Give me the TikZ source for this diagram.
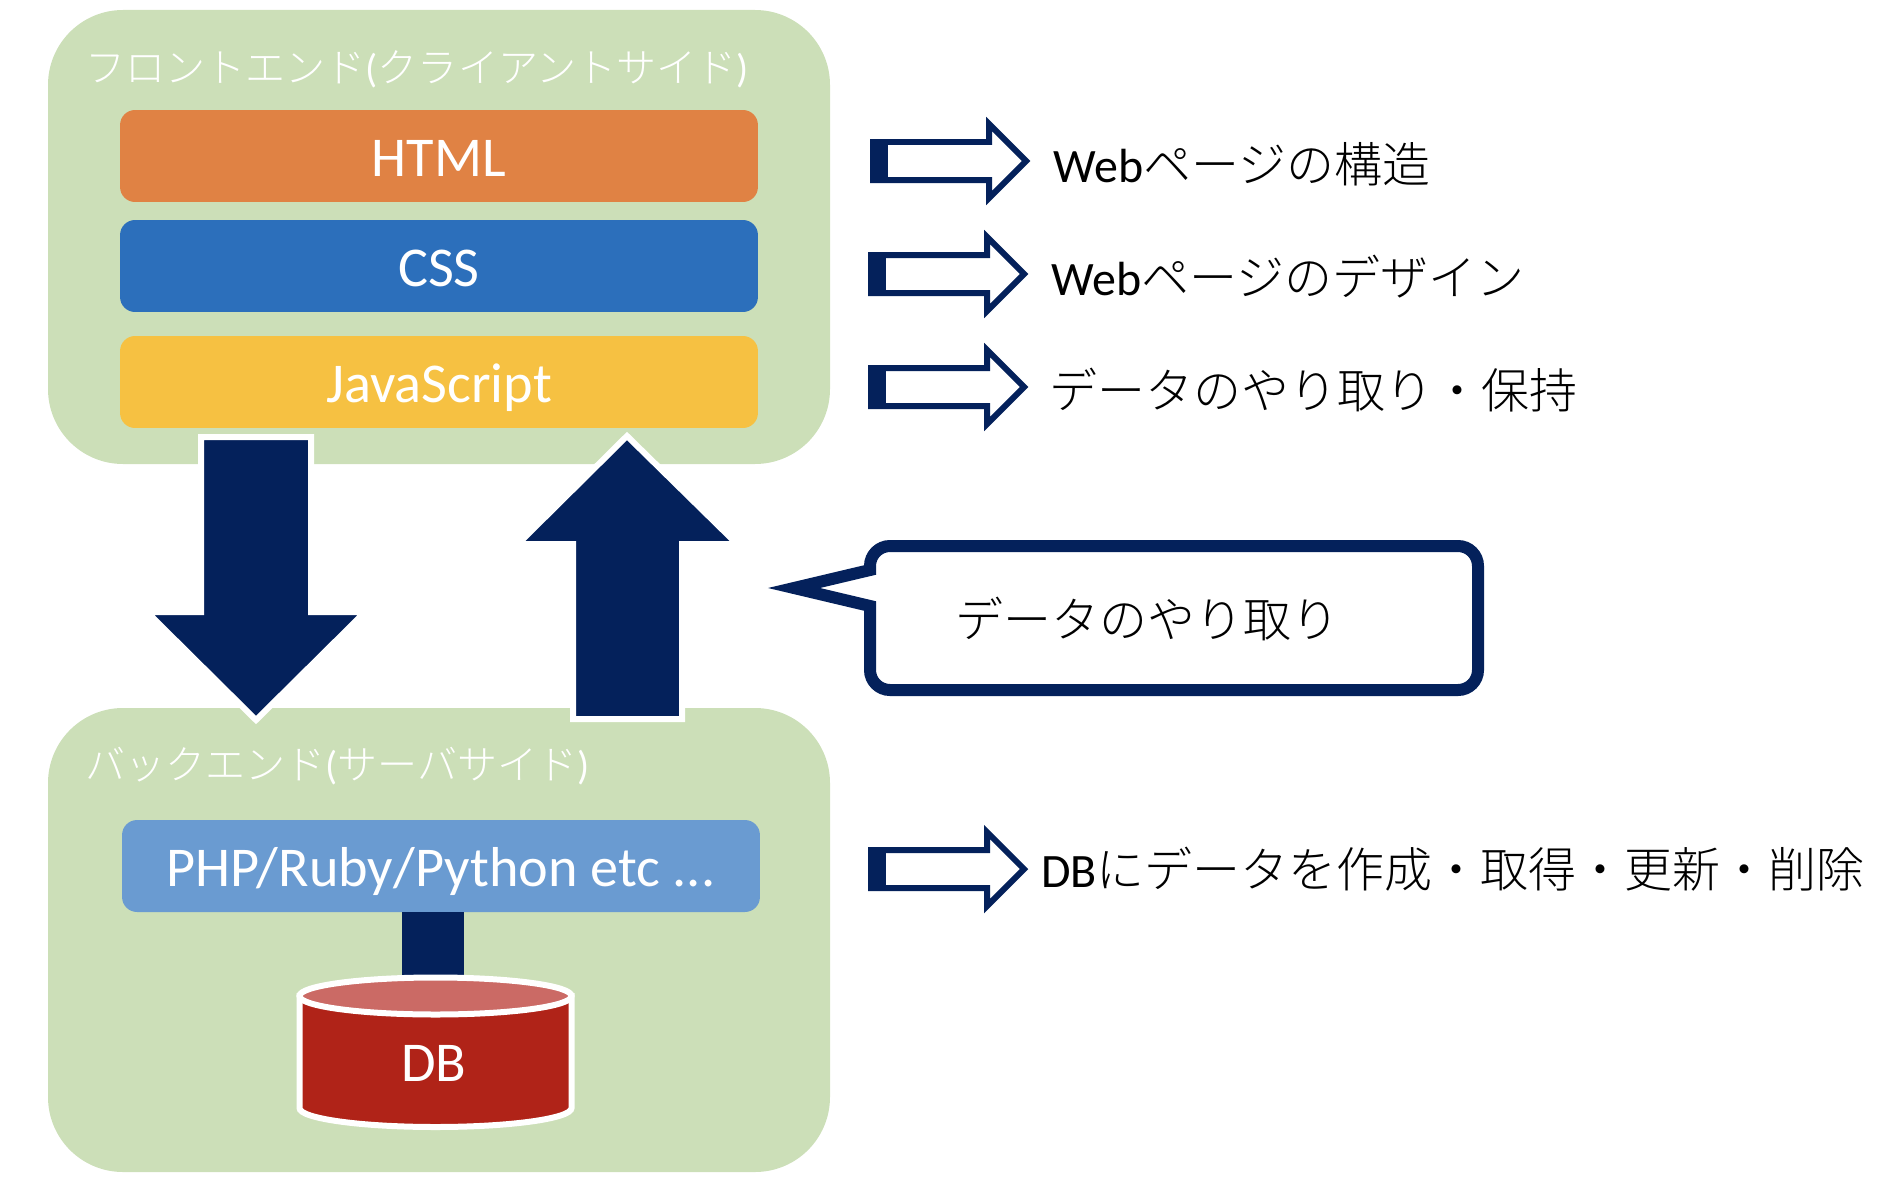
\documentclass[tikz,border=0pt]{standalone}
\usepackage{fontspec}
\setmainfont{Carlito}
\newfontfamily\jp{Noto Sans CJK JP}[UprightFont=* Light]
\definecolor{leaf}{HTML}{CCDFB8}
\definecolor{navy}{HTML}{04215B}
\definecolor{htmlc}{HTML}{E08244}
\definecolor{cssc}{HTML}{2C6FBB}
\definecolor{jsc}{HTML}{F6C142}
\definecolor{phpc}{HTML}{6A9BD1}
\definecolor{dbc}{HTML}{B02318}
\definecolor{dbtopc}{HTML}{CB6A65}
\tikzset{
  layer/.style={fill=leaf, rounded corners=1.5cm},
  langbox/.style={text=white, rounded corners=.3cm, minimum width=12.76cm, minimum height=1.84cm,
    inner sep=0pt, text height=23.3pt, text depth=0pt, font=\fontsize{32}{36}\selectfont},
  title/.style={text=white, anchor=base west, inner sep=0pt, font=\fontsize{22.8}{26}\selectfont},
  note/.style={text=black, anchor=base west, inner sep=0pt, font=\fontsize{27.3}{30}\selectfont},
  bigarrow/.style={fill=navy, draw=white, line width=.12cm, miter limit=10},
  hollow/.style={fill=white, draw=navy, line width=.12cm, miter limit=10},
}
\begin{document}
\begin{tikzpicture}[x=.02cm, y=-.02cm]
\useasboundingbox (0,0) rectangle (1896,1186);

\fill[layer] (48,10) rectangle (830,464);
\fill[layer] (48,708) rectangle (830,1172);
\node[title] (front) at (85,83) {{\jp フロントエンド}({\jp クライアントサイド})};
\node[title] (back) at (85,779) {{\jp バックエンド}({\jp サーバサイド})};

\node[langbox, fill=htmlc] (html) at (439,156) {HTML};
\node[langbox, fill=cssc] (css) at (439,266) {CSS};
\node[langbox, fill=jsc] (js) at (439,382) {JavaScript};
\node[langbox, fill=phpc] (php) at (441,866) {PHP/Ruby/Python etc ...};

% link down to the database
\coordinate (dbtop) at (433,985);
\draw[navy, line width=1.24cm] (php.south -| dbtop) -- (dbtop);

% database
\filldraw[fill=dbc, draw=white, line width=.12cm] (299.5,996) -- (299.5,1108)
  arc[start angle=180, end angle=360, x radius=136, y radius=-19] -- (571.5,996) -- cycle;
\filldraw[fill=dbtopc, draw=white, line width=.12cm] (435.5,996) ellipse[x radius=136, y radius=18.5];
\node[text=white, inner sep=0pt, font=\fontsize{32}{36}\selectfont] (db) at (434,1063) {DB};

% big arrows
\draw[bigarrow] (201,437) -- (311,437) -- (311,612) -- (365,612) -- (256,720)
  -- (147,612) -- (201,612) -- cycle;
\draw[bigarrow] (573,719) -- (682,719) -- (682,544) -- (737,544) -- (627,436)
  -- (518,544) -- (573,544) -- cycle;

% hollow arrows
\foreach \ax/\ay in {870/161,868/274,868/387,868/869}
{
  \begin{scope}[shift={(\ax,\ay)}]
    \draw[hollow] (3,-19) -- (119,-19) -- (119,-37) -- (156,0) -- (119,37) -- (119,19)
      -- (3,19) -- cycle;
    \fill[navy] (0,-22) rectangle (18,22);
  \end{scope}
}
\node[note] (page) at (1053,182) {Web{\jp ページの構造}};
\node[note] (design) at (1051,295) {Web{\jp ページのデザイン}};
\node[note] (keep) at (1049,408) {\jp データのやり取り・保持};
\node[note] (crud) at (1041,887) {DB{\jp にデータを作成・取得・更新・削除}};

% callout
\draw[navy, fill=white, line width=.24cm, miter limit=10]
  (870,570) [rounded corners=.4cm] -- (870,546) -- (1478,546) -- (1478,690) -- (870,690) -- (870,640)
  [sharp corners] -- (870,606) -- (794,588) -- (870,570) -- cycle;
\node[note] (talk) at (955,637) {\jp データのやり取り};
\end{tikzpicture}
\end{document}
